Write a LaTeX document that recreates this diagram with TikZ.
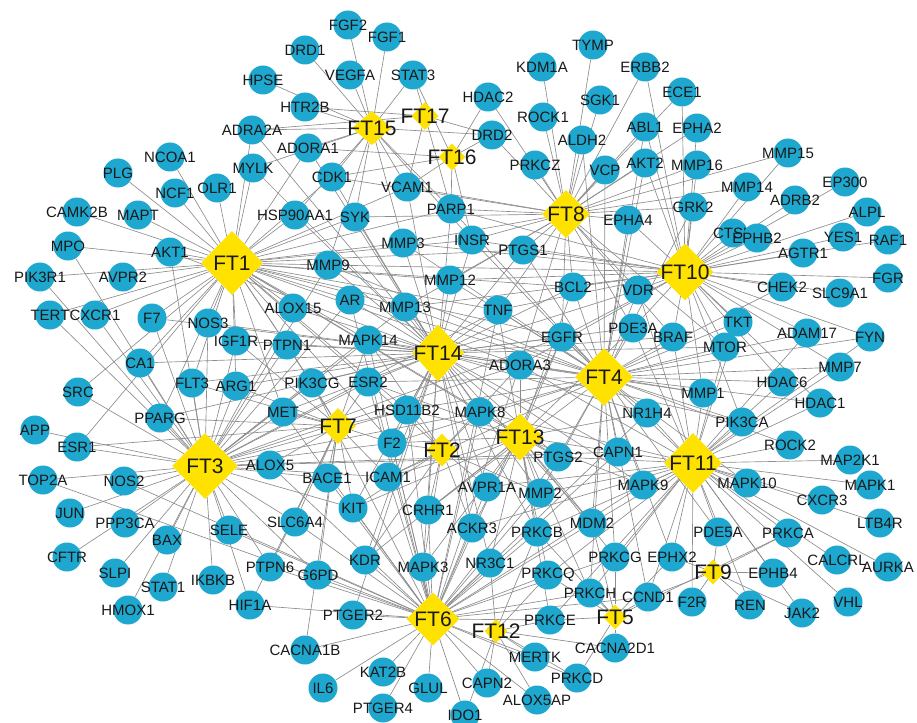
\documentclass[tikz,border=0pt]{standalone}
\usepackage{fontspec}
\setmainfont{Liberation Sans}
\usetikzlibrary{shapes.geometric,backgrounds}
\definecolor{genec}{RGB}{31,168,207}
\definecolor{ftc}{RGB}{255,226,0}
\definecolor{edgec}{RGB}{140,140,140}
\definecolor{txt}{RGB}{25,25,25}
\tikzset{
  gene/.style={circle, fill=genec, draw=none, minimum size=29pt, inner sep=0pt},
  glab/.style={font=\fontsize{15}{15}\selectfont, text=txt, inner sep=0pt},
  ftshape/.style={diamond, fill=ftc, draw=none, inner sep=0pt},
  ftlab/.style={font=\fontsize{21}{21}\selectfont, text=txt, inner sep=0pt},
  edge/.style={draw=edgec, line width=0.65pt},
}
\newcommand\gn[3]{\node[gene,label={[glab]center:#1}] (#1) at (#2,#3) {};}
\newcommand\ftn[5]{\node[ftshape,minimum width=#4pt,minimum height=#5pt,label={[ftlab]center:#1}] (#1) at (#2,#3) {};}
\newcommand\links[2]{\foreach \g in {#2} {\draw[edge] (#1) -- (\g);}}
\begin{document}
\begin{tikzpicture}[x=1pt,y=-1pt]
\useasboundingbox (0,0) rectangle (917,722);
% ---------- genes ----------
\gn{NCOA1}{170}{157}
\gn{PLG}{118}{173}
\gn{NCF1}{175}{193}
\gn{OLR1}{217}{188}
\gn{CAMK2B}{77}{212}
\gn{MAPT}{138}{215}
\gn{MPO}{68}{246}
\gn{AKT1}{170}{252}
\gn{PIK3R1}{40}{277}
\gn{AVPR2}{123}{277}
\gn{CXCR1}{95}{315}
\gn{TERT}{50}{315}
\gn{F7}{152}{318}
\gn{NOS3}{208}{323}
\gn{IGF1R}{236}{341}
\gn{CA1}{140}{363}
\gn{FLT3}{192}{383}
\gn{ARG1}{236}{386}
\gn{SRC}{78}{392}
\gn{PPARG}{160}{418}
\gn{APP}{35}{430}
\gn{ESR1}{77}{447}
\gn{TOP2A}{43}{480}
\gn{NOS2}{124}{481}
\gn{JUN}{70}{513}
\gn{PPP3CA}{125}{523}
\gn{BAX}{167}{540}
\gn{CFTR}{67}{557}
\gn{SLPI}{115}{573}
\gn{STAT1}{163}{587}
\gn{HMOX1}{128}{610}
\gn{SELE}{229}{530}
\gn{IKBKB}{213}{580}
\gn{HIF1A}{250}{605}
\gn{PTPN6}{270}{567}
\gn{G6PD}{318}{575}
\gn{SLC6A4}{295}{522}
\gn{BACE1}{327}{478}
\gn{ICAM1}{388}{477}
\gn{KIT}{353}{508}
\gn{CRHR1}{428}{510}
\gn{KDR}{365}{560}
\gn{MAPK3}{423}{567}
\gn{PTGER2}{353}{615}
\gn{CACNA1B}{305}{650}
\gn{KAT2B}{383}{672}
\gn{IL6}{323}{688}
\gn{GLUL}{428}{688}
\gn{PTGER4}{383}{708}
\gn{IDO1}{465}{715}
\gn{CAPN2}{487}{683}
\gn{ALOX5AP}{537}{700}
\gn{MERTK}{535}{657}
\gn{PRKCD}{577}{678}
\gn{CACNA2D1}{615}{648}
\gn{PRKCE}{550}{620}
\gn{PRKCH}{590}{593}
\gn{PRKCQ}{548}{575}
\gn{NR3C1}{490}{563}
\gn{ACKR3}{472}{528}
\gn{PRKCB}{537}{532}
\gn{MDM2}{592}{523}
\gn{PRKCG}{615}{557}
\gn{CCND1}{648}{597}
\gn{EPHX2}{672}{557}
\gn{AVPR1A}{487}{487}
\gn{MMP2}{540}{493}
\gn{MAPK9}{643}{485}
\gn{F2R}{692}{602}
\gn{REN}{750}{605}
\gn{JAK2}{802}{613}
\gn{VHL}{848}{602}
\gn{EPHB4}{773}{573}
\gn{CALCRL}{837}{560}
\gn{AURKA}{888}{567}
\gn{PDE5A}{718}{532}
\gn{PRKCA}{788}{533}
\gn{LTB4R}{880}{523}
\gn{CXCR3}{822}{500}
\gn{MAPK10}{747}{483}
\gn{MAPK1}{870}{485}
\gn{MAP2K1}{850}{460}
\gn{ROCK2}{790}{445}
\gn{PIK3CA}{742}{422}
\gn{HDAC1}{820}{403}
\gn{MMP1}{703}{393}
\gn{HDAC6}{782}{382}
\gn{MMP7}{840}{367}
\gn{MTOR}{725}{347}
\gn{TKT}{738}{322}
\gn{ADAM17}{807}{333}
\gn{FYN}{870}{337}
\gn{BRAF}{673}{337}
\gn{CHEK2}{782}{287}
\gn{SLC9A1}{840}{293}
\gn{FGR}{888}{278}
\gn{AGTR1}{803}{253}
\gn{YES1}{843}{237}
\gn{RAF1}{888}{240}
\gn{CTSK}{733}{233}
\gn{EPHB2}{757}{238}
\gn{ALPL}{867}{212}
\gn{ADRB2}{795}{200}
\gn{EP300}{845}{182}
\gn{GRK2}{693}{207}
\gn{MMP14}{747}{187}
\gn{MMP15}{788}{153}
\gn{MMP16}{697}{165}
\gn{EPHA2}{697}{128}
\gn{ECE1}{682}{92}
\gn{EPHA4}{628}{220}
\gn{AKT2}{645}{163}
\gn{ABL1}{645}{127}
\gn{VCP}{605}{170}
\gn{ERBB2}{645}{67}
\gn{TYMP}{593}{45}
\gn{SGK1}{600}{100}
\gn{ALDH2}{582}{140}
\gn{KDM1A}{542}{67}
\gn{ROCK1}{543}{117}
\gn{PRKCZ}{535}{165}
\gn{HDAC2}{488}{97}
\gn{DRD2}{492}{135}
\gn{PARP1}{451}{209}
\gn{INSR}{472}{240}
\gn{PTGS1}{523}{250}
\gn{BCL2}{573}{287}
\gn{VDR}{638}{290}
\gn{PDE3A}{633}{328}
\gn{EGFR}{562}{337}
\gn{TNF}{498}{310}
\gn{ADORA3}{520}{365}
\gn{NR1H4}{647}{413}
\gn{CAPN1}{618}{452}
\gn{PTGS2}{558}{457}
\gn{MAPK8}{480}{412}
\gn{MMP12}{450}{280}
\gn{MMP13}{405}{307}
\gn{MMP3}{403}{243}
\gn{MMP9}{328}{265}
\gn{AR}{350}{300}
\gn{ALOX15}{293}{308}
\gn{PTPN1}{287}{345}
\gn{MAPK14}{368}{340}
\gn{PIK3CG}{312}{383}
\gn{ESR2}{368}{382}
\gn{MET}{283}{412}
\gn{HSD11B2}{407}{410}
\gn{F2}{392}{443}
\gn{ALOX5}{270}{465}
\gn{SYK}{355}{217}
\gn{HSP90AA1}{295}{215}
\gn{CDK1}{332}{177}
\gn{VCAM1}{407}{187}
\gn{MYLK}{253}{168}
\gn{ADORA1}{308}{148}
\gn{ADRA2A}{252}{130}
\gn{HTR2B}{305}{107}
\gn{HPSE}{263}{80}
\gn{DRD1}{305}{50}
\gn{VEGFA}{350}{75}
\gn{STAT3}{413}{75}
\gn{FGF2}{348}{25}
\gn{FGF1}{387}{37}
% ---------- compounds ----------
\ftn{FT1}{232}{263}{62}{64}
\ftn{FT3}{205}{466}{66}{66}
\ftn{FT4}{604}{377}{58}{58}
\ftn{FT14}{438}{353}{52}{57}
\ftn{FT8}{566}{214}{48}{48}
\ftn{FT10}{685}{272}{57}{57}
\ftn{FT11}{693}{463}{58}{60}
\ftn{FT6}{433}{619}{53}{53}
\ftn{FT13}{520}{437}{47}{47}
\ftn{FT7}{338}{426}{36}{36}
\ftn{FT2}{442}{450}{31}{33}
\ftn{FT15}{372}{128}{40}{34}
\ftn{FT17}{425}{116}{27}{28}
\ftn{FT16}{452}{157}{27}{27}
\ftn{FT12}{496}{631}{23}{24}
\ftn{FT5}{615}{617}{24}{25}
\ftn{FT9}{713}{572}{24}{25}
% ---------- edges ----------
\begin{scope}[on background layer]
\links{FT1}{NCOA1,PLG,NCF1,OLR1,CAMK2B,MAPT,MPO,AKT1,PIK3R1,AVPR2,TERT,CXCR1,F7,NOS3,MYLK,ADRA2A,ADORA1,CDK1,HSP90AA1,SYK,MMP9,ALOX15,IGF1R,PTPN1,CA1,FLT3,ARG1,AR,MMP3,MMP13,MAPK14,ESR2,PIK3CG,MMP12,PPARG,SRC,ESR1,INSR,PTGS1,PARP1,VCAM1,HSD11B2,MET,TNF,EGFR,ADORA3,MAPK8,F2,BCL2,PTGS2}
\links{FT3}{APP,ESR1,TOP2A,NOS2,JUN,PPP3CA,BAX,CFTR,SLPI,STAT1,HMOX1,SELE,IKBKB,HIF1A,SRC,PPARG,CA1,FLT3,ARG1,IGF1R,NOS3,F7,TERT,MPO,PIK3R1,AKT1,CXCR1,ALOX5,MET,PIK3CG,ESR2,MAPK14,PTPN1,ALOX15,AR,MMP9,BACE1,SLC6A4,PTPN6,G6PD,KIT,ICAM1,F2,HSD11B2,EGFR,TNF,PTGS2,MAPK8,ADORA3,MMP13,CAPN1}
\links{FT6}{TOP2A,NOS2,SELE,CACNA1B,IL6,KAT2B,PTGER4,GLUL,IDO1,CAPN2,ALOX5AP,MERTK,PRKCE,PRKCD,PTGER2,G6PD,KDR,MAPK3,CRHR1,KIT,SLC6A4,PTPN6,ICAM1,BACE1,AVPR1A,ACKR3,NR3C1,PRKCB,PRKCQ,PRKCH,PRKCG,MMP2,MDM2,HIF1A,ALOX5,F2,HSD11B2,MAPK8,ADORA3,PTGS2,CAPN1,EGFR,ESR2,MAPK14,AR,MET,PIK3CG,NR1H4,MAPK9,CCND1,TNF}
\links{FT4}{EGFR,PDE3A,VDR,BRAF,BCL2,TNF,ADORA3,NR1H4,CAPN1,PTGS2,MMP1,MTOR,TKT,HDAC6,PIK3CA,ADAM17,MMP7,HDAC1,MAPK9,MDM2,PRKCG,MMP2,MAPK8,ESR2,MAPK14,AR,MMP13,MMP12,PTGS1,INSR,EPHA4,ALDH2,GRK2,AKT2,CHEK2,MAPK10,ROCK2,PDE5A,EPHX2,CCND1,PRKCH,F2,HSD11B2,ICAM1,CRHR1,MMP3,MMP9,PARP1,VCP,ABL1,FYN}
\links{FT8}{TYMP,KDM1A,ERBB2,HDAC2,SGK1,ECE1,ROCK1,ABL1,DRD2,ALDH2,EPHA2,PRKCZ,VCP,AKT2,MMP16,EPHA4,INSR,PTGS1,PARP1,BCL2,EGFR,VDR,PDE3A,TNF,MMP3,MMP12,VCAM1,CDK1,GRK2,MMP14,MMP15,SYK,MMP13,BRAF,ADORA3,MTOR}
\links{FT10}{MMP15,MMP14,EP300,GRK2,ADRB2,ALPL,CTSK,EPHB2,YES1,RAF1,AGTR1,CHEK2,SLC9A1,FGR,FYN,TKT,BRAF,MTOR,ADAM17,MMP7,HDAC6,MMP1,PDE3A,VDR,EPHA4,MMP16,AKT2,ABL1,EPHA2,EGFR,BCL2,PIK3CA,HDAC1,INSR,PTGS1,MMP12,MMP13,MMP3,MMP9,PARP1,TNF,ADORA3,ECE1,ERBB2}
\links{FT11}{MAP2K1,MAPK10,MAPK1,CXCR3,LTB4R,PDE5A,PRKCA,CALCRL,AURKA,EPHB4,REN,JAK2,VHL,F2R,EPHX2,CCND1,PRKCG,MDM2,MAPK9,CAPN1,NR1H4,PIK3CA,ROCK2,HDAC1,HDAC6,MMP1,MTOR,BRAF,MMP7,ADAM17,EGFR,PTGS2,MMP2,PRKCH,PRKCB,PRKCQ,ADORA3,MAPK8,FYN,TKT,PDE3A,VDR,AVPR1A,ACKR3,PRKCE}
\links{FT14}{MMP3,MMP9,MMP12,MMP13,AR,MAPK14,ESR2,PIK3CG,PTPN1,ALOX15,HSD11B2,F2,MAPK8,ADORA3,TNF,EGFR,BCL2,PTGS1,INSR,PARP1,SYK,CDK1,VCAM1,HSP90AA1,ADORA1,MET,IGF1R,ARG1,FLT3,CA1,NOS3,PTGS2,CAPN1,AVPR1A,MMP2,ICAM1,KIT,CRHR1,KDR,MAPK3,NR3C1,ACKR3,PRKCB,MDM2,MAPK9,NR1H4,PDE3A,VDR,BRAF,MTOR,MMP1,PIK3CA,PTGER2,MYLK,ADRA2A,AKT1,PPARG,F7}
\links{FT13}{MAPK8,ADORA3,PTGS2,CAPN1,MMP2,AVPR1A,ACKR3,NR3C1,PRKCB,PRKCQ,MDM2,CRHR1,KDR,MAPK3,F2,HSD11B2,ESR2,EGFR,TNF,MAPK9,NR1H4,PRKCG,PRKCH,PRKCE,ICAM1,KIT,BCL2,PDE3A}
\links{FT7}{MET,PIK3CG,ESR2,ALOX5,BACE1,ICAM1,F2,KIT,SLC6A4,ARG1,PTPN1,MAPK14,HSD11B2,G6PD,PPARG,CACNA1B,HIF1A,PTPN6,IGF1R,FLT3,ESR1}
\links{FT2}{F2,ICAM1,HSD11B2,ESR2,MAPK8,CRHR1,AVPR1A,ACKR3,MAPK14,KIT,KDR,MMP2,ADORA3,MAPK3}
\links{FT15}{FGF2,FGF1,DRD1,VEGFA,STAT3,HPSE,HTR2B,ADRA2A,ADORA1,CDK1,VCAM1,MYLK,HSP90AA1,SYK,PARP1,MMP3,DRD2,INSR,MMP9}
\links{FT17}{STAT3,VCAM1,PARP1,DRD2,ADRA2A,HTR2B}
\links{FT16}{STAT3,DRD2,HDAC2,PARP1,INSR,VCAM1,CDK1,ADORA1}
\links{FT5}{PRKCH,PRKCG,PRKCQ,PRKCE,PRKCD,CACNA2D1,PRKCB,CCND1,PRKCA,EPHX2,MDM2}
\links{FT9}{EPHX2,F2R,REN,PDE5A,EPHB4,JAK2,PRKCA,CCND1}
\links{FT12}{PRKCE,MERTK,CAPN2,ALOX5AP,PRKCD,PRKCQ,NR3C1,CACNA2D1,IDO1,PRKCB}
\end{scope}
\end{tikzpicture}
\end{document}
